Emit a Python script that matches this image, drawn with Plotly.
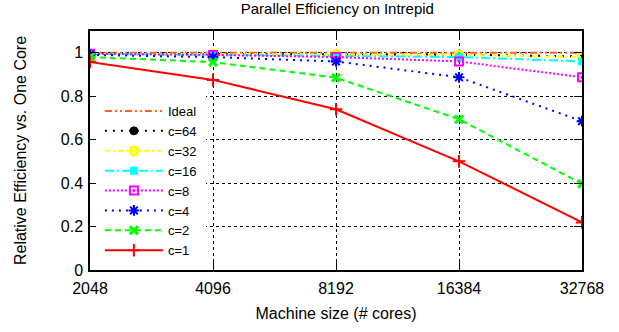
import plotly.graph_objects as go

cores = [2048, 4096, 8192, 16384, 32768]
tick_text = ["2048", "4096", "8192", "16384", "32768"]

ideal = [1.0, 1.0, 1.0, 1.0, 1.0]
c64 = [0.995, 0.993, 0.992, 0.991, 0.983]
c32 = [0.995, 0.993, 0.992, 0.99, 0.98]
c16 = [0.995, 0.99, 0.985, 0.98, 0.96]
c8 = [0.995, 0.99, 0.98, 0.96, 0.887]
c4 = [0.99, 0.98, 0.96, 0.887, 0.685]
c2 = [0.98, 0.957, 0.885, 0.694, 0.397]
c1 = [0.957, 0.875, 0.74, 0.50, 0.219]

FONT = "Liberation Sans, Arial, Helvetica, sans-serif"

series = [
    ("Ideal", ideal, "#ff6020", "7px,3px,2px,3px,2px,3px", None, 0, 0),
    ("c=64", c64, "#000000", "2px,6px", "circle", 8, 1),
    ("c=32", c32, "#ffff00", "5px,3px,2px,3px", "circle-open", 8, 3),
    ("c=16", c16, "#00ffff", "9px,3px,2px,3px", "square", 7, 1),
    ("c=8", c8, "#ff00ff", "2px,2px", "square-open-dot", 8, 2),
    ("c=4", c4, "#0000ff", "2px,5px", "asterisk-open", 9, 2),
    ("c=2", c2, "#00ff00", "6px,4px", "x-thin-open", 8, 3),
    ("c=1", c1, "#ff0000", "solid", "cross-thin-open", 9, 2),
]

fig = go.Figure()
for name, vals, color, dash, sym, size, mlw in series:
    if sym is None:
        fig.add_trace(go.Scatter(x=cores, y=vals, name=name, mode="lines",
                                 line=dict(color=color, width=2, dash=dash)))
    else:
        fig.add_trace(go.Scatter(x=cores, y=vals, name=name, mode="lines+markers",
                                 line=dict(color=color, width=2, dash=dash),
                                 marker=dict(symbol=sym, size=size, color=color,
                                             line=dict(color=color, width=mlw))))

fig.update_layout(
    width=619, height=332,
    margin=dict(l=90, r=37, t=31, b=60),
    paper_bgcolor="white", plot_bgcolor="white",
    font=dict(family=FONT, size=16, color="black"),
    title=dict(text="Parallel Efficiency on Intrepid", x=0.545, xanchor="center",
               y=1 - 9 / 332, yanchor="middle", yref="container",
               font=dict(size=15)),
    showlegend=True,
    legend=dict(x=0.012, y=0.0, xanchor="left", yanchor="bottom",
                bgcolor="white", bordercolor="white", borderwidth=4, itemwidth=58,
                font=dict(size=13), tracegroupgap=0),
    xaxis=dict(type="log", range=[3.3113, 4.5154],
               tickvals=cores, ticktext=tick_text,
               ticks="inside", ticklen=8, tickwidth=1, tickcolor="black",
               showline=True, linecolor="black", linewidth=1.5, mirror="ticks",
               showgrid=True, gridcolor="black", griddash="dot", gridwidth=1,
               zeroline=False, tickfont=dict(size=16), ticklabelstandoff=3,
               title=dict(text="Machine size (# cores)", font=dict(size=16), standoff=12)),
    yaxis=dict(range=[0, 1.1], tickvals=[0, 0.2, 0.4, 0.6, 0.8, 1.0],
               ticktext=["0", "0.2", "0.4", "0.6", "0.8", "1"],
               ticks="inside", ticklen=8, tickwidth=1, tickcolor="black",
               showline=True, linecolor="black", linewidth=1.5, mirror="ticks",
               showgrid=True, gridcolor="black", griddash="dot", gridwidth=1,
               zeroline=False, tickfont=dict(size=16), ticklabelstandoff=2,
               title=dict(text="Relative Efficiency vs. One Core", font=dict(size=16), standoff=30)),
)

fig.write_html("out.html")
